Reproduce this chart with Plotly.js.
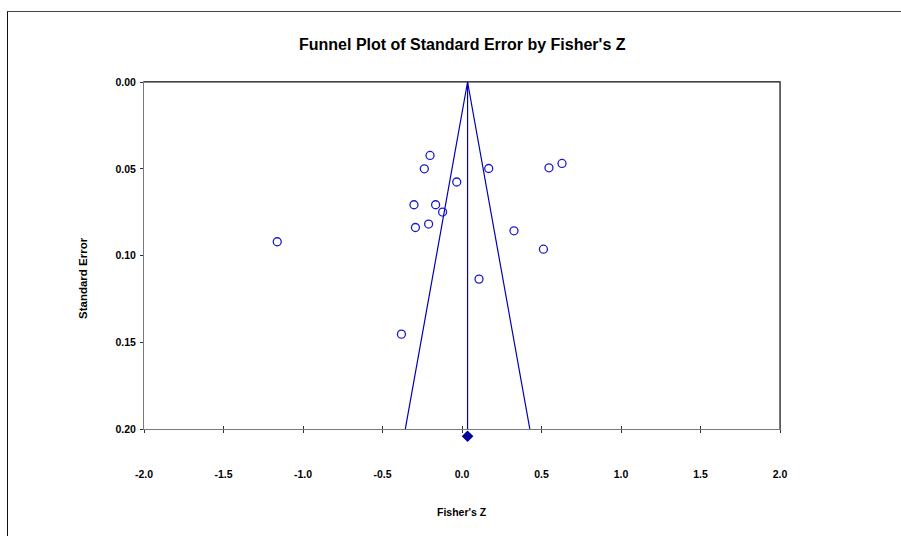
<!DOCTYPE html>
<html>
<head>
<meta charset="utf-8">
<script src="https://cdn.plot.ly/plotly-3.0.1.min.js"></script>
<style>
  html, body { margin: 0; padding: 0; background: #fff; }
  #wrap { position: relative; width: 901px; height: 536px; overflow: hidden; }
  #chart { position: absolute; left: 0; top: 0; width: 901px; height: 536px; }
  #frame { position: absolute; left: 7px; top: 11px; width: 900px; height: 600px;
           border-left: 1px solid #111; border-top: 1px solid #444; pointer-events: none; }
</style>
</head>
<body>
<div id="wrap">
  <div id="chart"></div>
  <div id="frame"></div>
</div>
<script>
// Study effect sizes (Fisher's Z) and standard errors
const fisherZ = [-1.162, -0.201, -0.237, -0.033, -0.302, -0.166, -0.122, -0.293, -0.210,
                 0.168, 0.547, 0.629, 0.327, 0.512, 0.107, -0.381];
const stdErr  = [0.0920, 0.0423, 0.0500, 0.0576, 0.0707, 0.0707, 0.0749, 0.0838, 0.0818,
                 0.0498, 0.0494, 0.0469, 0.0857, 0.0963, 0.1135, 0.1452];
// Combined effect
const pooledZ = [0.035];
const pooledMarkerSE = [0.204];
const seMax = 0.2;
const zCrit = 1.96;
const xTicks = [-2.0, -1.5, -1.0, -0.5, 0.0, 0.5, 1.0, 1.5, 2.0];
const xTickText = ["-2.0", "-1.5", "-1.0", "-0.5", "0.0", "0.5", "1.0", "1.5", "2.0"];
const yTicks = [0.00, 0.05, 0.10, 0.15, 0.20];
const yTickText = ["0.00", "0.05", "0.10", "0.15", "0.20"];

const W = 901, H = 536;
const axisBottomPx = 429.3;
const M = { l: 144, r: 121, t: 82, b: 91 };
const pw = W - M.l - M.r, ph = H - M.t - M.b;
const px2x = (px) => (px - M.l) / pw;
const px2y = (py) => (H - M.b - py) / ph;
const yDomBottom = px2y(axisBottomPx);

const font = "Liberation Sans, Arial, Helvetica, sans-serif";
const blue = "#0000b4";

const mz = pooledZ[0];
const funnel = {
  x: [mz - zCrit * seMax, mz, mz + zCrit * seMax],
  y: [seMax, 0, seMax],
  mode: "lines", type: "scatter",
  line: { color: blue, width: 1.2 },
  hoverinfo: "skip", showlegend: false
};
const centre = {
  x: [mz, mz], y: [0, seMax],
  mode: "lines", type: "scatter",
  line: { color: blue, width: 1.2 },
  hoverinfo: "skip", showlegend: false
};
const studies = {
  x: fisherZ, y: stdErr,
  mode: "markers", type: "scatter",
  marker: { symbol: "circle-open", size: 8, color: "#1c1cc8", line: { width: 1.3, color: "#1c1cc8" } },
  showlegend: false
};
const pooled = {
  x: pooledZ, y: pooledMarkerSE,
  xaxis: "x", yaxis: "y2",
  mode: "markers", type: "scatter",
  marker: { symbol: "diamond", size: 9, color: "#000099" },
  showlegend: false
};
const dummyTop = { x: [], y: [], xaxis: "x2", yaxis: "y", type: "scatter", mode: "markers", showlegend: false };

const layout = {
  width: W, height: H,
  margin: M,
  paper_bgcolor: "#fff", plot_bgcolor: "rgba(0,0,0,0)",
  font: { family: font, color: "#000" },
  showlegend: false,
  xaxis: {
    range: [-2, 2], tickvals: xTicks, ticktext: xTickText,
    anchor: "y",
    showgrid: false, zeroline: false,
    showline: true, linecolor: "#7a7a7a", linewidth: 1, mirror: true,
    ticks: "outside", ticklen: 3, tickcolor: "#333", tickwidth: 1,
    ticklabelstandoff: 32,
    tickfont: { family: font, size: 10.5, weight: "bold", color: "#000" }
  },
  xaxis2: {
    range: [-2, 2], overlaying: "x", anchor: "y", side: "bottom",
    tickvals: xTicks, showticklabels: false,
    showgrid: false, zeroline: false, showline: false,
    ticks: "inside", ticklen: 3, tickcolor: "#333", tickwidth: 1
  },
  yaxis: {
    domain: [yDomBottom, 1],
    range: [seMax, 0], tickvals: yTicks, ticktext: yTickText,
    showgrid: false, zeroline: false,
    showline: true, linecolor: "#7a7a7a", linewidth: 1, mirror: true,
    ticks: "outside", ticklen: 3, tickcolor: "#333", tickwidth: 1,
    ticklabelstandoff: 2,
    tickfont: { family: font, size: 10.5, weight: "bold", color: "#000" }
  },
  yaxis2: {
    domain: [0, 1],
    range: [seMax / (1 - yDomBottom), 0],
    visible: false, showgrid: false, zeroline: false
  },
  shapes: [
    { type: "line", xref: "paper", yref: "paper", x0: 0, x1: 1, y0: 1, y1: 1,
      line: { color: "#111", width: 1.2 } },
    { type: "line", xref: "paper", yref: "paper", x0: 1, x1: 1, y0: yDomBottom, y1: 1,
      line: { color: "#555", width: 1.6 } }
  ],
  annotations: [
    { text: "Funnel Plot of Standard Error by Fisher's Z", xref: "paper", yref: "paper",
      x: px2x(462), y: px2y(44), xanchor: "center", yanchor: "middle", showarrow: false,
      font: { family: font, size: 16, weight: "bold", color: "#000" } },
    { text: "Standard Error", xref: "paper", yref: "paper",
      x: px2x(83), y: px2y(278), xanchor: "center", yanchor: "middle", showarrow: false,
      textangle: -90,
      font: { family: font, size: 11.5, weight: "bold", color: "#000" } },
    { text: "Fisher's Z", xref: "paper", yref: "paper",
      x: px2x(462), y: px2y(512), xanchor: "center", yanchor: "middle", showarrow: false,
      font: { family: font, size: 10.5, weight: "bold", color: "#000" } }
  ]
};

Plotly.newPlot("chart", [funnel, centre, studies, pooled, dummyTop], layout,
  { displayModeBar: false, staticPlot: true });
</script>
</body>
</html>
